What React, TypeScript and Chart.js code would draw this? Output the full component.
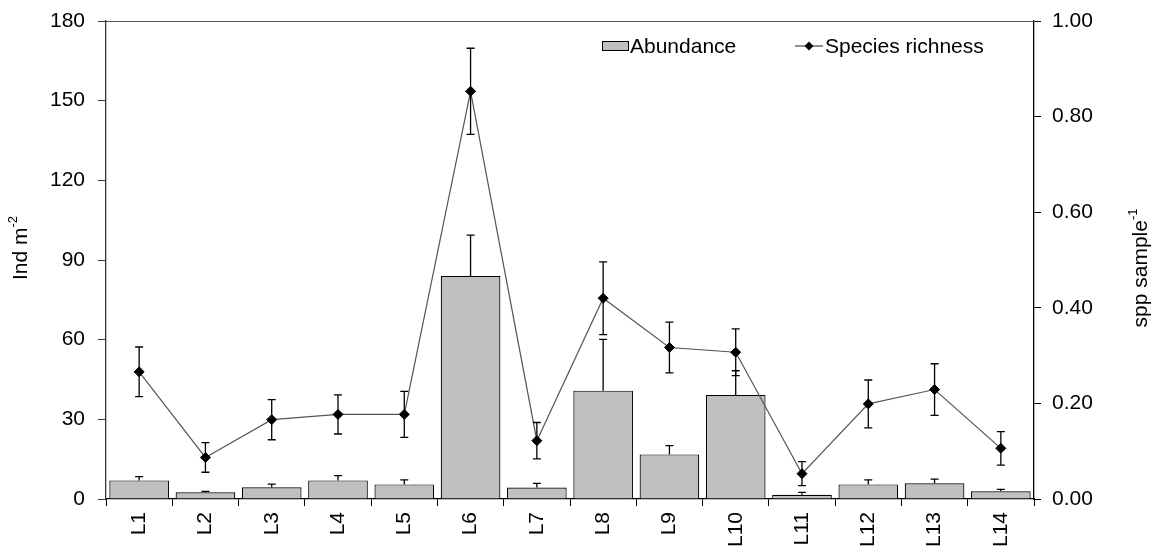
import React, { useEffect, useRef } from "react";
import { Chart, registerables } from "chart.js";

Chart.register(...registerables);

const categories = ["L1", "L2", "L3", "L4", "L5", "L6", "L7", "L8", "L9", "L10", "L11", "L12", "L13", "L14"];
const abundance = [7.0, 2.5, 4.4, 7.0, 5.5, 84, 4.3, 40.8, 16.8, 39.2, 1.6, 5.5, 5.9, 2.9];
const abundanceErr = [1.4, 0.4, 1.2, 1.8, 1.7, 15.4, 1.6, 19.3, 3.3, 9.1, 0.9, 1.7, 1.6, 0.7];
const richness = [0.266, 0.087, 0.166, 0.177, 0.177, 0.853, 0.122, 0.42, 0.317, 0.307, 0.053, 0.199, 0.229, 0.106];
const richnessErr = [0.052, 0.031, 0.042, 0.041, 0.048, 0.09, 0.038, 0.076, 0.053, 0.049, 0.025, 0.05, 0.054, 0.035];
const leftTicks = { min: 0, max: 180, step: 30 };
const rightTicks = { min: 0, max: 1, step: 0.2 };
const leftTitle = ["Ind m", "-2"];
const rightTitle = ["spp sample", "-1"];
const legendLabels = ["Abundance", "Species richness"];

const FONT = "'Liberation Sans', Arial, sans-serif";

const errorBarPlugin = {
  id: "errorBars",
  afterDatasetsDraw(chart: any) {
    const ctx = chart.ctx;
    const x = chart.scales.x;
    const y = chart.scales.y;
    const y1 = chart.scales.y1;
    ctx.save();
    ctx.strokeStyle = "#000";
    ctx.lineWidth = 1.3;
    const cap = 4;
    abundance.forEach((v, i) => {
      const px = x.getPixelForValue(i);
      const top = y.getPixelForValue(v + abundanceErr[i]);
      const base = y.getPixelForValue(v);
      ctx.beginPath();
      ctx.moveTo(px, base);
      ctx.lineTo(px, top);
      ctx.moveTo(px - cap, top);
      ctx.lineTo(px + cap, top);
      ctx.stroke();
    });
    richness.forEach((v, i) => {
      const px = x.getPixelForValue(i);
      const top = y1.getPixelForValue(v + richnessErr[i]);
      const bot = y1.getPixelForValue(v - richnessErr[i]);
      ctx.beginPath();
      ctx.moveTo(px, bot);
      ctx.lineTo(px, top);
      ctx.moveTo(px - cap, top);
      ctx.lineTo(px + cap, top);
      ctx.moveTo(px - cap, bot);
      ctx.lineTo(px + cap, bot);
      ctx.stroke();
    });
    ctx.restore();
  },
};

const decorPlugin = {
  id: "decor",
  afterDraw(chart: any) {
    const ctx = chart.ctx;
    const a = chart.chartArea;
    ctx.save();
    ctx.strokeStyle = "#555";
    ctx.lineWidth = 1;
    ctx.beginPath();
    ctx.moveTo(a.left, a.top + 0.5);
    ctx.lineTo(a.right, a.top + 0.5);
    ctx.stroke();

    // legend
    const ly = a.top + 25;
    ctx.fillStyle = "#c0c0c0";
    ctx.strokeStyle = "#000";
    ctx.lineWidth = 1;
    ctx.fillRect(602, ly - 5, 27, 10);
    ctx.strokeRect(602.5, ly - 4.5, 26, 9);
    ctx.fillStyle = "#000";
    ctx.font = `21px ${FONT}`;
    ctx.textBaseline = "middle";
    ctx.textAlign = "left";
    ctx.fillText(legendLabels[0], 630, ly + 1);
    ctx.strokeStyle = "#444";
    ctx.lineWidth = 1.2;
    ctx.beginPath();
    ctx.moveTo(795, ly);
    ctx.lineTo(823, ly);
    ctx.stroke();
    ctx.beginPath();
    ctx.moveTo(809, ly - 4.5);
    ctx.lineTo(813.5, ly);
    ctx.lineTo(809, ly + 4.5);
    ctx.lineTo(804.5, ly);
    ctx.closePath();
    ctx.fillStyle = "#000";
    ctx.fill();
    ctx.fillText(legendLabels[1], 825, ly + 1);

    const drawTitle = (cx: number, cy: number, parts: string[]) => {
      ctx.save();
      ctx.translate(cx, cy);
      ctx.rotate(-Math.PI / 2);
      ctx.font = `21px ${FONT}`;
      const w1 = ctx.measureText(parts[0]).width;
      ctx.font = `13px ${FONT}`;
      const w2 = ctx.measureText(parts[1]).width;
      const total = w1 + w2;
      ctx.textAlign = "left";
      ctx.textBaseline = "middle";
      ctx.fillStyle = "#000";
      ctx.font = `21px ${FONT}`;
      ctx.fillText(parts[0], -total / 2, 0);
      ctx.font = `13px ${FONT}`;
      ctx.fillText(parts[1], -total / 2 + w1, -8);
      ctx.restore();
    };
    drawTitle(21, 248, leftTitle);
    drawTitle(1141, 268, rightTitle);
    ctx.restore();
  },
};

export default function App() {
  const ref = useRef<HTMLCanvasElement>(null);
  useEffect(() => {
    document.body.style.margin = "0";
    const canvas = ref.current!;
    const chart = new Chart(canvas, {
      type: "bar",
      data: {
        labels: categories,
        datasets: [
          {
            type: "line",
            label: legendLabels[1],
            data: richness,
            yAxisID: "y1",
            borderColor: "#555",
            borderWidth: 1.2,
            pointStyle: "rectRot",
            pointRadius: 5,
            pointBackgroundColor: "#000",
            pointBorderColor: "#000",
            pointBorderWidth: 1,
            order: 0,
          } as any,
          {
            type: "bar",
            label: legendLabels[0],
            data: abundance,
            yAxisID: "y",
            backgroundColor: "#c0c0c0",
            borderColor: "#000",
            borderWidth: 1.2,
            barPercentage: 0.9,
            categoryPercentage: 1,
            order: 1,
          },
        ],
      },
      options: {
        responsive: false,
        animation: false,
        layout: { padding: { top: 21, left: 0, right: 0, bottom: 0 } },
        plugins: { legend: { display: false }, tooltip: { enabled: false } },
        scales: {
          x: {
            type: "category",
            offset: true,
            grid: { display: true, drawOnChartArea: false, drawTicks: true, tickLength: 7, color: "#000", offset: true },
            border: { color: "#000", width: 1.3 },
            ticks: { minRotation: 90, maxRotation: 90, color: "#000", font: { family: FONT, size: 21 }, padding: 6 },
            afterFit: (s: any) => { s.height = 49; s.paddingLeft = 0; s.paddingRight = 0; },
          },
          y: {
            position: "left",
            min: leftTicks.min,
            max: leftTicks.max,
            ticks: { stepSize: leftTicks.step, color: "#000", font: { family: FONT, size: 21 }, padding: 13 },
            grid: { drawOnChartArea: false, tickLength: 8, color: "#333" },
            border: { color: "#333", width: 1.3 },
            afterFit: (s: any) => { s.width = 106; s.paddingTop = 0; s.paddingBottom = 0; },
          },
          y1: {
            position: "right",
            min: rightTicks.min,
            max: rightTicks.max,
            ticks: { stepSize: rightTicks.step, color: "#000", font: { family: FONT, size: 21 }, padding: 11, callback: (v: any) => Number(v).toFixed(2) },
            grid: { drawOnChartArea: false, tickLength: 7, color: "#000" },
            border: { color: "#000", width: 1.3 },
            afterFit: (s: any) => { s.width = 121; s.paddingTop = 0; s.paddingBottom = 0; },
          },
        },
      },
      plugins: [errorBarPlugin, decorPlugin],
    });
    return () => chart.destroy();
  }, []);
  return (
    <div style={{ width: 1155, height: 548 }}>
      <canvas ref={ref} width={1155} height={548} />
    </div>
  );
}
